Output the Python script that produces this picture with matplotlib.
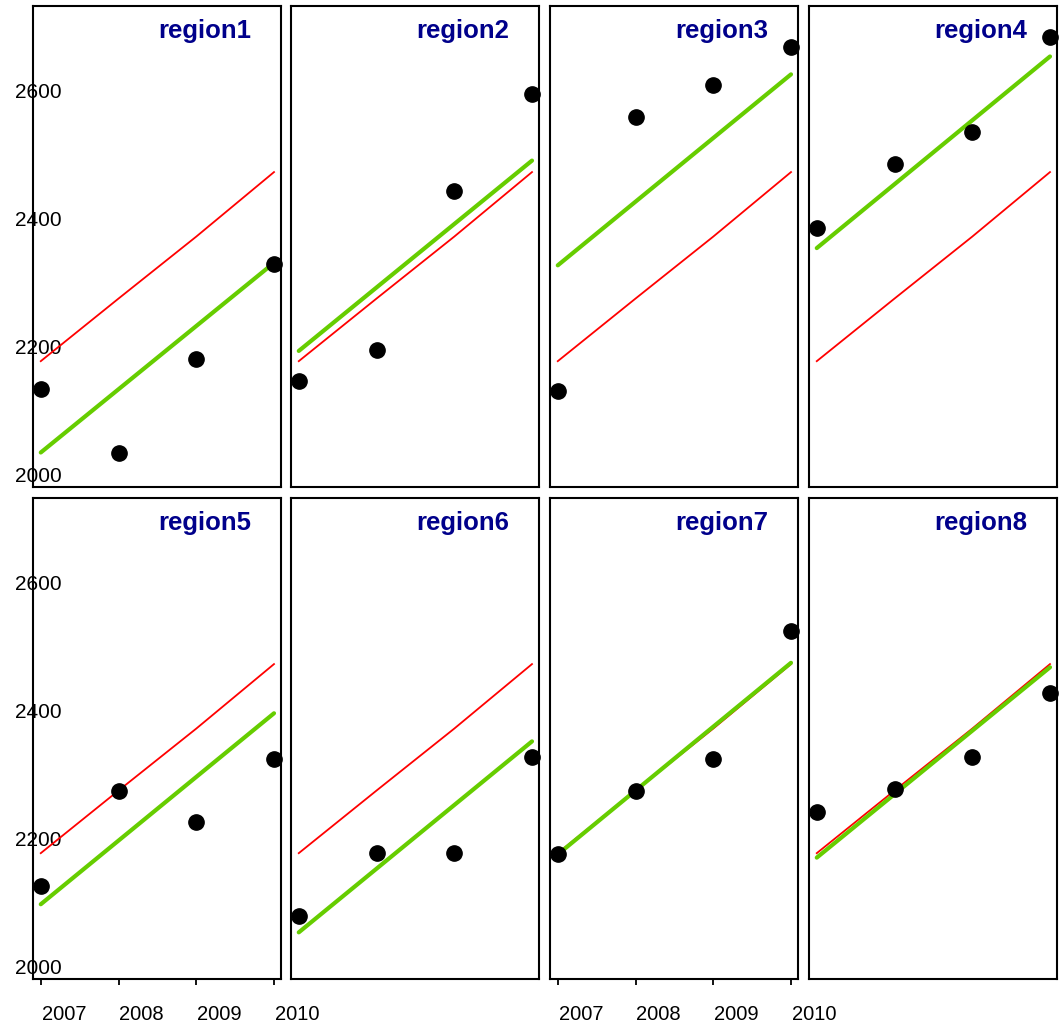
import numpy as np
import matplotlib
matplotlib.use("Agg")
import matplotlib.pyplot as plt
from matplotlib.transforms import ScaledTranslation

plt.rcParams['font.family'] = ['Liberation Sans', 'DejaVu Sans']

# data
years = [2007, 2008, 2009, 2010]
regions = ['region1', 'region2', 'region3', 'region4',
           'region5', 'region6', 'region7', 'region8']

obs_region1 = [2133, 2033, 2180, 2329]
obs_region2 = [2146, 2195, 2444, 2595]
obs_region3 = [2130, 2560, 2610, 2669]
obs_region4 = [2385, 2485, 2535, 2685]
obs_region5 = [2125, 2274, 2225, 2325]
obs_region6 = [2079, 2178, 2178, 2328]
obs_region7 = [2175, 2275, 2325, 2525]
obs_region8 = [2241, 2278, 2328, 2428]
observed = [obs_region1, obs_region2, obs_region3, obs_region4,
            obs_region5, obs_region6, obs_region7, obs_region8]

# region specific fit (green), value at first and last year
fit_start = [2034, 2193, 2327, 2354, 2097, 2053, 2175, 2170]
fit_end = [2331, 2491, 2626, 2654, 2396, 2352, 2475, 2468]

# overall fit (red), same in every panel
overall = [2177, 2275, 2372, 2473]

ytick_vals = [2000, 2200, 2400, 2600]

W, H = 1061, 1025
DPI = 100
fig = plt.figure(figsize=(W / DPI, H / DPI), dpi=DPI)

col_left = [33, 291, 550, 809]
col_width = 248
row_top = [6, 498]
row_height = 481

green = '#66CD00'
title_col = '#00008B'

for i, name in enumerate(regions):
    row, col = divmod(i, 4)
    left = col_left[col]
    top = row_top[row]
    ax = fig.add_axes([left / W, 1 - (top + row_height) / H,
                       col_width / W, row_height / H])

    ax.plot(years, overall, color='red', lw=1.3, zorder=2)
    ax.plot([years[0], years[-1]], [fit_start[i], fit_end[i]],
            color=green, lw=3, solid_capstyle='round', zorder=3)
    ax.plot(years, observed[i], 'o', color='black', ms=11,
            zorder=4, clip_on=False)

    ax.set_xlim(2006.9, 2010.09)
    ax.set_ylim(1980, 2733)

    for sp in ax.spines.values():
        sp.set_linewidth(1.5)

    ax.text(0.879, 0.947, name, transform=ax.transAxes, ha='right',
            va='center', fontsize=18.5, fontweight='bold', color=title_col)

    # y labels only on the first column, centred over the spine
    if col == 0:
        ax.set_yticks(ytick_vals)
        ax.set_yticklabels([str(v) for v in ytick_vals])
        ax.tick_params(axis='y', length=0, pad=0, labelsize=15)
        for lbl in ax.get_yticklabels():
            lbl.set_horizontalalignment('center')
            lbl.set_transform(lbl.get_transform() +
                              ScaledTranslation(5.5 / DPI, 0, fig.dpi_scale_trans))
    else:
        ax.set_yticks([])

    # x labels alternate on the bottom row (lattice style)
    if row == 1 and col in (0, 2):
        ax.set_xticks(years)
        ax.set_xticklabels([str(y) for y in years])
        ax.tick_params(axis='x', direction='out', length=4.5, width=1.3,
                       pad=14.5, labelsize=14.5)
        for lbl in ax.get_xticklabels():
            lbl.set_transform(lbl.get_transform() +
                              ScaledTranslation(23 / DPI, 0, fig.dpi_scale_trans))
    else:
        ax.set_xticks([])

fig.savefig('out.png', dpi=DPI)
